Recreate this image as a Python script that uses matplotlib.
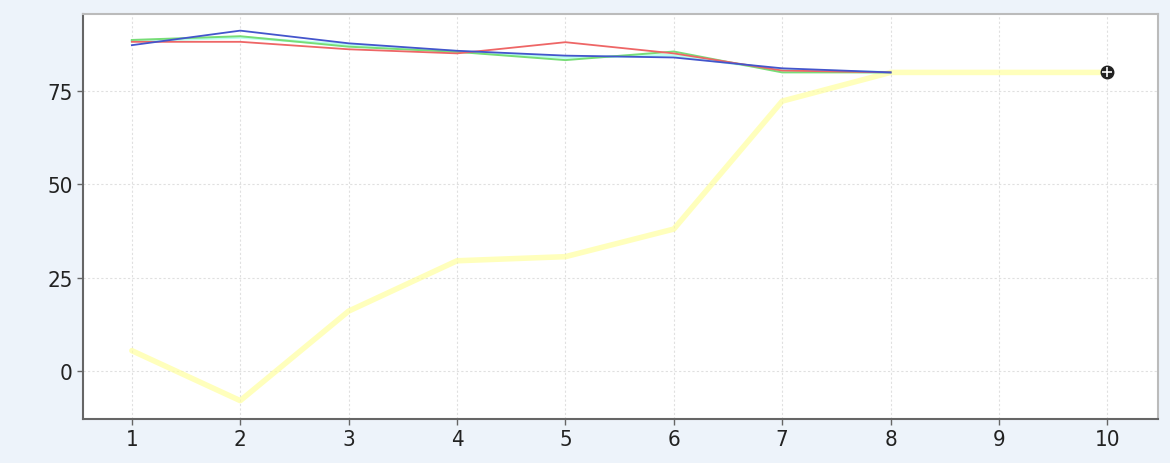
import numpy as np
import matplotlib
matplotlib.use("Agg")
import matplotlib.pyplot as plt

x = [1, 2, 3, 4, 5, 6, 7, 8, 9, 10]

red = [88.2, 88.2, 86.2, 85.1, 88.1, 85.1, 80.5, 80.0]
blue = [87.3, 91.2, 87.8, 85.8, 84.5, 84.0, 81.1, 80.0]
green = [88.7, 89.7, 86.9, 85.5, 83.3, 85.6, 80.0, 80.0]
cyan = [88.4, 89.4, 87.4, 85.6, 84.0, 84.6, 80.6, 80.0]
yellow = [5.4, -8.0, 16.0, 29.5, 30.6, 38.0, 72.3, 80.0, 80.0, 80.0]

yticks = [0, 25, 50, 75]

plt.rcParams['font.family'] = ['DejaVu Sans']
plt.rcParams['font.stretch'] = 'condensed'

fig = plt.figure(figsize=(11.7, 4.64), dpi=100)
fig.patch.set_facecolor("#edf3fa")
ax = fig.add_axes([0.071, 0.095, 0.919, 0.873])
ax.set_facecolor("white")

ax.plot(x, yellow, color="#ffff99", lw=4.0, alpha=0.65, solid_capstyle="round", zorder=2)
ax.plot(x[:8], cyan, color="#bbffee", lw=2.0, zorder=3)
ax.plot(x[:8], green, color="#77dd77", lw=1.4, zorder=4)
ax.plot(x[:8], red, color="#ee6666", lw=1.3, zorder=4)
ax.plot(x[:8], blue, color="#4455cc", lw=1.3, zorder=5)
ax.plot([10], [80], marker="o", ms=9, mfc="#222222", mec="#222222", zorder=6)
ax.plot([10], [80], marker="+", ms=7, mew=1.2, color="white", zorder=7)

ax.set_xlim(0.55, 10.47)
ax.set_ylim(-12.9, 95.7)
ax.set_xticks(x)
ax.set_yticks(yticks)
ax.grid(True, color="#e0e0e0", ls=(0, (2, 2)), lw=0.8)
ax.set_axisbelow(True)

ax.tick_params(labelsize=16, colors="#666666", labelcolor="#222222", length=4, width=1)
ax.spines["left"].set_color("#666666")
ax.spines["bottom"].set_color("#666666")
ax.spines["top"].set_color("#bbbbbb")
ax.spines["right"].set_color("#bbbbbb")
for s in ax.spines.values():
    s.set_linewidth(1.5)

fig.savefig("out.png", dpi=100, facecolor=fig.get_facecolor())
